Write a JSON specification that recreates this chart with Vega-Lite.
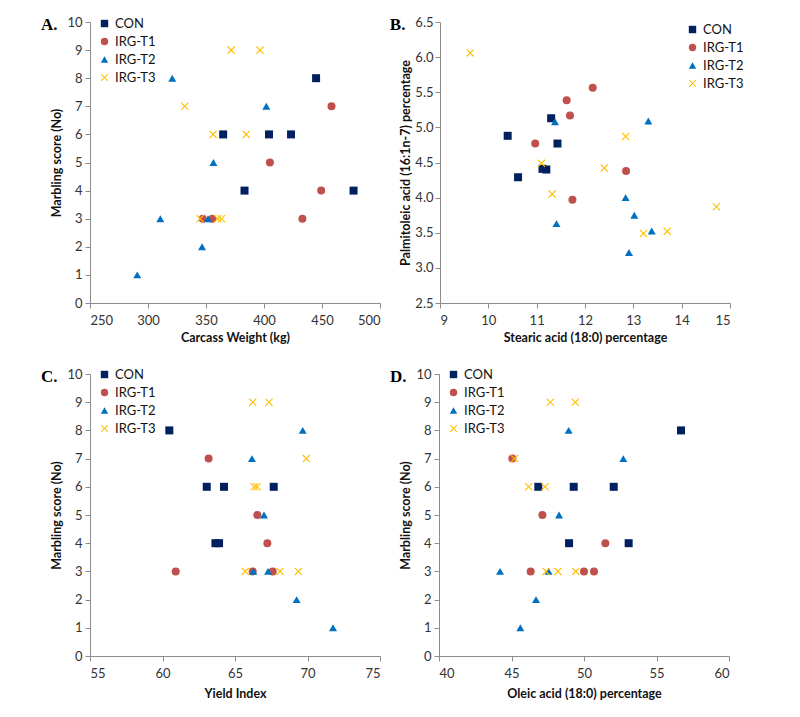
{
  "$schema": "https://vega.github.io/schema/vega-lite/v6.json",
  "background": "white",
  "padding": {"left": 40, "top": 16, "right": 5, "bottom": 5},
  "config": {
    "view": {"stroke": null},
    "font": "Lato",
    "axis": {
      "grid": false,
      "domainColor": "#8c8c8c",
      "tickColor": "#8c8c8c",
      "tickSize": 5,
      "labelFont": "Lato",
      "labelFontSize": 13,
      "labelColor": "#333333",
      "labelPadding": 6,
      "titleFont": "Lato",
      "titleFontSize": 12.5,
      "titleFontWeight": "bold",
      "titleColor": "#111111"
    },
    "axisY": {"titlePadding": 3, "labelPadding": 3},
    "axisX": {"titlePadding": 4},
    "legend": {
      "orient": "none",
      "title": null,
      "labelFont": "Lato",
      "labelFontSize": 13,
      "labelColor": "#111111",
      "symbolSize": 55,
      "rowPadding": 4,
      "symbolStrokeWidth": 0
    },
    "title": {
      "font": "Liberation Serif",
      "fontSize": 17,
      "fontWeight": "bold",
      "color": "#000000",
      "anchor": "start",
      "frame": "bounds",
      "offset": -18,
      "dx": -10
    }
  },
  "datasets": {
    "a": [
      {"g": "CON", "x": 364.8, "y": 6}, {"g": "CON", "x": 383.2, "y": 4}, {"g": "CON", "x": 404.3, "y": 6},
      {"g": "CON", "x": 423.3, "y": 6}, {"g": "CON", "x": 444.9, "y": 8}, {"g": "CON", "x": 477.2, "y": 4},
      {"g": "IRG-T1", "x": 458.2, "y": 7}, {"g": "IRG-T1", "x": 405.1, "y": 5}, {"g": "IRG-T1", "x": 449.3, "y": 4},
      {"g": "IRG-T1", "x": 433.1, "y": 3}, {"g": "IRG-T1", "x": 347.2, "y": 3}, {"g": "IRG-T1", "x": 355.5, "y": 3},
      {"g": "IRG-T2", "x": 320.9, "y": 8}, {"g": "IRG-T2", "x": 402.0, "y": 7}, {"g": "IRG-T2", "x": 356.4, "y": 5},
      {"g": "IRG-T2", "x": 310.6, "y": 3}, {"g": "IRG-T2", "x": 351.8, "y": 3}, {"g": "IRG-T2", "x": 346.6, "y": 2},
      {"g": "IRG-T2", "x": 290.7, "y": 1},
      {"g": "IRG-T3", "x": 371.7, "y": 9}, {"g": "IRG-T3", "x": 396.5, "y": 9}, {"g": "IRG-T3", "x": 331.6, "y": 7},
      {"g": "IRG-T3", "x": 356.1, "y": 6}, {"g": "IRG-T3", "x": 384.7, "y": 6}, {"g": "IRG-T3", "x": 344.9, "y": 3},
      {"g": "IRG-T3", "x": 360.1, "y": 3}, {"g": "IRG-T3", "x": 363.3, "y": 3}
    ],
    "b": [
      {"g": "CON", "x": 10.40, "y": 4.88}, {"g": "CON", "x": 10.615, "y": 4.29}, {"g": "CON", "x": 11.12, "y": 4.41},
      {"g": "CON", "x": 11.20, "y": 4.40}, {"g": "CON", "x": 11.30, "y": 5.13}, {"g": "CON", "x": 11.43, "y": 4.77},
      {"g": "IRG-T1", "x": 12.16, "y": 5.565}, {"g": "IRG-T1", "x": 11.62, "y": 5.385}, {"g": "IRG-T1", "x": 11.69, "y": 5.17},
      {"g": "IRG-T1", "x": 10.97, "y": 4.77}, {"g": "IRG-T1", "x": 12.85, "y": 4.38}, {"g": "IRG-T1", "x": 11.74, "y": 3.97},
      {"g": "IRG-T2", "x": 11.38, "y": 5.08}, {"g": "IRG-T2", "x": 13.31, "y": 5.09}, {"g": "IRG-T2", "x": 12.84, "y": 4.0},
      {"g": "IRG-T2", "x": 13.02, "y": 3.75}, {"g": "IRG-T2", "x": 13.38, "y": 3.525}, {"g": "IRG-T2", "x": 12.91, "y": 3.22},
      {"g": "IRG-T2", "x": 11.41, "y": 3.63},
      {"g": "IRG-T3", "x": 9.625, "y": 6.06}, {"g": "IRG-T3", "x": 11.10, "y": 4.49}, {"g": "IRG-T3", "x": 11.32, "y": 4.05},
      {"g": "IRG-T3", "x": 12.84, "y": 4.87}, {"g": "IRG-T3", "x": 12.40, "y": 4.42}, {"g": "IRG-T3", "x": 13.21, "y": 3.49},
      {"g": "IRG-T3", "x": 13.70, "y": 3.52}, {"g": "IRG-T3", "x": 14.72, "y": 3.87}
    ],
    "c": [
      {"g": "CON", "x": 60.47, "y": 8}, {"g": "CON", "x": 63.05, "y": 6}, {"g": "CON", "x": 64.24, "y": 6},
      {"g": "CON", "x": 67.67, "y": 6}, {"g": "CON", "x": 63.65, "y": 4}, {"g": "CON", "x": 63.9, "y": 4},
      {"g": "IRG-T1", "x": 63.18, "y": 7}, {"g": "IRG-T1", "x": 66.54, "y": 5}, {"g": "IRG-T1", "x": 67.23, "y": 4},
      {"g": "IRG-T1", "x": 60.91, "y": 3}, {"g": "IRG-T1", "x": 66.22, "y": 3}, {"g": "IRG-T1", "x": 67.6, "y": 3},
      {"g": "IRG-T2", "x": 69.67, "y": 8}, {"g": "IRG-T2", "x": 66.17, "y": 7}, {"g": "IRG-T2", "x": 67.0, "y": 5},
      {"g": "IRG-T2", "x": 66.26, "y": 3}, {"g": "IRG-T2", "x": 67.28, "y": 3}, {"g": "IRG-T2", "x": 69.25, "y": 2},
      {"g": "IRG-T2", "x": 71.76, "y": 1},
      {"g": "IRG-T3", "x": 66.22, "y": 9}, {"g": "IRG-T3", "x": 67.34, "y": 9}, {"g": "IRG-T3", "x": 69.92, "y": 7},
      {"g": "IRG-T3", "x": 66.33, "y": 6}, {"g": "IRG-T3", "x": 66.52, "y": 6}, {"g": "IRG-T3", "x": 65.71, "y": 3},
      {"g": "IRG-T3", "x": 68.1, "y": 3}, {"g": "IRG-T3", "x": 69.37, "y": 3}
    ],
    "d": [
      {"g": "CON", "x": 56.69, "y": 8}, {"g": "CON", "x": 46.85, "y": 6}, {"g": "CON", "x": 49.29, "y": 6},
      {"g": "CON", "x": 52.05, "y": 6}, {"g": "CON", "x": 48.97, "y": 4}, {"g": "CON", "x": 53.08, "y": 4},
      {"g": "IRG-T1", "x": 45.06, "y": 7}, {"g": "IRG-T1", "x": 47.13, "y": 5}, {"g": "IRG-T1", "x": 51.47, "y": 4},
      {"g": "IRG-T1", "x": 46.32, "y": 3}, {"g": "IRG-T1", "x": 50.0, "y": 3}, {"g": "IRG-T1", "x": 50.69, "y": 3},
      {"g": "IRG-T2", "x": 48.94, "y": 8}, {"g": "IRG-T2", "x": 52.71, "y": 7}, {"g": "IRG-T2", "x": 48.28, "y": 5},
      {"g": "IRG-T2", "x": 44.21, "y": 3}, {"g": "IRG-T2", "x": 47.56, "y": 3}, {"g": "IRG-T2", "x": 46.69, "y": 2},
      {"g": "IRG-T2", "x": 45.61, "y": 1},
      {"g": "IRG-T3", "x": 47.68, "y": 9}, {"g": "IRG-T3", "x": 49.4, "y": 9}, {"g": "IRG-T3", "x": 45.2, "y": 7},
      {"g": "IRG-T3", "x": 46.18, "y": 6}, {"g": "IRG-T3", "x": 47.31, "y": 6}, {"g": "IRG-T3", "x": 47.38, "y": 3},
      {"g": "IRG-T3", "x": 48.2, "y": 3}, {"g": "IRG-T3", "x": 49.43, "y": 3}
    ]
  },
  "resolve": {
    "scale": {"color": "independent", "shape": "independent"},
    "legend": {"color": "independent", "shape": "independent"}
  },
  "spacing": 24,
  "vconcat": [
    {
      "spacing": 8,
      "resolve": {
        "scale": {"color": "independent", "shape": "independent"},
        "legend": {"color": "independent", "shape": "independent"}
      },
      "hconcat": [
        {
          "title": "A.",
          "width": 290,
          "height": 281,
          "data": {"name": "a"},
          "mark": {"type": "point", "filled": true, "size": 64, "opacity": 1},
          "encoding": {
            "x": {"field": "x", "type": "quantitative", "title": "Carcass Weight (kg)",
                  "scale": {"domain": [250, 500], "nice": false, "zero": false},
                  "axis": {"values": [250, 300, 350, 400, 450, 500]}},
            "y": {"field": "y", "type": "quantitative", "title": "Marbling score (No)",
                  "scale": {"domain": [0, 10], "nice": false},
                  "axis": {"values": [0, 1, 2, 3, 4, 5, 6, 7, 8, 9, 10]}},
            "color": {"field": "g", "type": "nominal",
                      "scale": {"domain": ["CON", "IRG-T1", "IRG-T2", "IRG-T3"], "range": ["#002060", "#C0504D", "#0070C0", "#FFC000"]},
                      "legend": {"legendX": 8, "legendY": -5}},
            "shape": {"field": "g", "type": "nominal",
                      "scale": {"domain": ["CON", "IRG-T1", "IRG-T2", "IRG-T3"], "range": ["square", "circle", "triangle-up", "M-1,-0.8L-0.8,-1L0,-0.2L0.8,-1L1,-0.8L0.2,0L1,0.8L0.8,1L0,0.2L-0.8,1L-1,0.8L-0.2,0Z"]},
                      "legend": {"legendX": 8, "legendY": -5}}
          }
        },
        {
          "title": "B.",
          "width": 290,
          "height": 281,
          "data": {"name": "b"},
          "mark": {"type": "point", "filled": true, "size": 64, "opacity": 1},
          "encoding": {
            "x": {"field": "x", "type": "quantitative", "title": "Stearic acid (18:0) percentage",
                  "scale": {"domain": [9, 15], "nice": false, "zero": false},
                  "axis": {"values": [9, 10, 11, 12, 13, 14, 15]}},
            "y": {"field": "y", "type": "quantitative", "title": "Palmitoleic acid (16:1n-7) percentage",
                  "scale": {"domain": [2.5, 6.5], "nice": false, "zero": false},
                  "axis": {"values": [2.5, 3, 3.5, 4, 4.5, 5, 5.5, 6, 6.5], "labelPadding": 2, "titlePadding": 2}},
            "color": {"field": "g", "type": "nominal",
                      "scale": {"domain": ["CON", "IRG-T1", "IRG-T2", "IRG-T3"], "range": ["#002060", "#C0504D", "#0070C0", "#FFC000"]},
                      "legend": {"legendX": 246, "legendY": 1}},
            "shape": {"field": "g", "type": "nominal",
                      "scale": {"domain": ["CON", "IRG-T1", "IRG-T2", "IRG-T3"], "range": ["square", "circle", "triangle-up", "M-1,-0.8L-0.8,-1L0,-0.2L0.8,-1L1,-0.8L0.2,0L1,0.8L0.8,1L0,0.2L-0.8,1L-1,0.8L-0.2,0Z"]},
                      "legend": {"legendX": 246, "legendY": 1}}
          }
        }
      ]
    },
    {
      "spacing": 8,
      "resolve": {
        "scale": {"color": "independent", "shape": "independent"},
        "legend": {"color": "independent", "shape": "independent"}
      },
      "hconcat": [
        {
          "title": "C.",
          "width": 290,
          "height": 282,
          "data": {"name": "c"},
          "mark": {"type": "point", "filled": true, "size": 64, "opacity": 1},
          "encoding": {
            "x": {"field": "x", "type": "quantitative", "title": "Yield Index",
                  "scale": {"domain": [55, 75], "nice": false, "zero": false},
                  "axis": {"values": [55, 60, 65, 70, 75], "titlePadding": 7}},
            "y": {"field": "y", "type": "quantitative", "title": "Marbling score (No)",
                  "scale": {"domain": [0, 10], "nice": false},
                  "axis": {"values": [0, 1, 2, 3, 4, 5, 6, 7, 8, 9, 10]}},
            "color": {"field": "g", "type": "nominal",
                      "scale": {"domain": ["CON", "IRG-T1", "IRG-T2", "IRG-T3"], "range": ["#002060", "#C0504D", "#0070C0", "#FFC000"]},
                      "legend": {"legendX": 8, "legendY": -6}},
            "shape": {"field": "g", "type": "nominal",
                      "scale": {"domain": ["CON", "IRG-T1", "IRG-T2", "IRG-T3"], "range": ["square", "circle", "triangle-up", "M-1,-0.8L-0.8,-1L0,-0.2L0.8,-1L1,-0.8L0.2,0L1,0.8L0.8,1L0,0.2L-0.8,1L-1,0.8L-0.2,0Z"]},
                      "legend": {"legendX": 8, "legendY": -6}}
          }
        },
        {
          "title": "D.",
          "width": 290,
          "height": 282,
          "data": {"name": "d"},
          "mark": {"type": "point", "filled": true, "size": 64, "opacity": 1},
          "encoding": {
            "x": {"field": "x", "type": "quantitative", "title": "Oleic acid (18:0) percentage",
                  "scale": {"domain": [40, 60], "nice": false, "zero": false},
                  "axis": {"values": [40, 45, 50, 55, 60], "titlePadding": 7}},
            "y": {"field": "y", "type": "quantitative", "title": "Marbling score (No)",
                  "scale": {"domain": [0, 10], "nice": false},
                  "axis": {"values": [0, 1, 2, 3, 4, 5, 6, 7, 8, 9, 10]}},
            "color": {"field": "g", "type": "nominal",
                      "scale": {"domain": ["CON", "IRG-T1", "IRG-T2", "IRG-T3"], "range": ["#002060", "#C0504D", "#0070C0", "#FFC000"]},
                      "legend": {"legendX": 8, "legendY": -6}},
            "shape": {"field": "g", "type": "nominal",
                      "scale": {"domain": ["CON", "IRG-T1", "IRG-T2", "IRG-T3"], "range": ["square", "circle", "triangle-up", "M-1,-0.8L-0.8,-1L0,-0.2L0.8,-1L1,-0.8L0.2,0L1,0.8L0.8,1L0,0.2L-0.8,1L-1,0.8L-0.2,0Z"]},
                      "legend": {"legendX": 8, "legendY": -6}}
          }
        }
      ]
    }
  ]
}
